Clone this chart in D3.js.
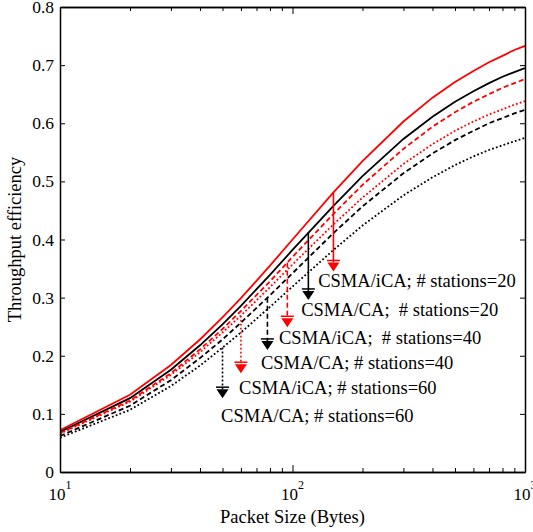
<!DOCTYPE html>
<html>
<head>
<meta charset="utf-8">
<script src="https://cdn.jsdelivr.net/npm/d3@7"></script>
<style>
  body { margin: 0; background: #fff; }
  svg { display: block; }
</style>
</head>
<body>
<svg id="chart" width="533" height="532" font-family="'Liberation Serif', 'Times New Roman', serif"></svg>
<script>
// Packet sizes (bytes) at which throughput efficiency was evaluated
const packetSizes = [10, 20, 30, 40, 50, 60, 80, 100, 150, 200, 300, 400, 500, 600, 700, 800, 900, 1000];

// Throughput efficiency per scheme and number of stations
const icaN20 = [0.072, 0.133, 0.184, 0.228, 0.266, 0.299, 0.355, 0.400, 0.481, 0.535, 0.603, 0.644, 0.671, 0.690, 0.705, 0.716, 0.726, 0.733];
const caN20  = [0.069, 0.127, 0.176, 0.218, 0.254, 0.286, 0.339, 0.382, 0.458, 0.509, 0.573, 0.611, 0.637, 0.655, 0.669, 0.680, 0.688, 0.695];
const icaN40 = [0.067, 0.123, 0.170, 0.211, 0.246, 0.277, 0.328, 0.370, 0.444, 0.494, 0.556, 0.594, 0.619, 0.637, 0.650, 0.661, 0.669, 0.676];
const caN40  = [0.062, 0.114, 0.158, 0.196, 0.228, 0.257, 0.304, 0.342, 0.411, 0.457, 0.514, 0.548, 0.571, 0.587, 0.600, 0.609, 0.617, 0.623];
const icaN60 = [0.066, 0.121, 0.167, 0.206, 0.240, 0.269, 0.318, 0.357, 0.426, 0.472, 0.530, 0.564, 0.587, 0.603, 0.615, 0.624, 0.632, 0.638];
const caN60  = [0.059, 0.107, 0.148, 0.183, 0.214, 0.240, 0.284, 0.319, 0.382, 0.424, 0.476, 0.507, 0.528, 0.543, 0.554, 0.562, 0.569, 0.575];

// Axis ticks
const yTicks = [0, 0.1, 0.2, 0.3, 0.4, 0.5, 0.6, 0.7, 0.8];
const xMajorTicks = [10, 100, 1000];
const xMajorExponents = ["1", "2", "3"];

// Annotation arrows: packet size, efficiency at the curve, efficiency at the tip
const arrowX    = [150, 117, 95, 78, 60, 50];
const arrowFrom = [0.481, 0.412, 0.360, 0.300, 0.269, 0.214];
const arrowTo   = [0.345, 0.296, 0.249, 0.210, 0.170, 0.127];

// Annotation labels: text, packet size and efficiency of the text's left-middle point
const labelText = [
  "CSMA/iCA; # stations=20",
  "CSMA/CA;  # stations=20",
  "CSMA/iCA;  # stations=40",
  "CSMA/CA; # stations=40",
  "CSMA/iCA; # stations=60",
  "CSMA/CA; # stations=60"
];
const labelX = [129, 109, 87.5, 73.2, 58.9, 49.3];
const labelY = [0.329, 0.280, 0.231, 0.189, 0.145, 0.098];

// ---- drawing ----
const FONT = "'Liberation Serif', 'Times New Roman', serif";
const svg = d3.select("#chart");
const plot = { left: 60, right: 525, top: 7, bottom: 472 };

const x = d3.scaleLog().domain([10, 1000]).range([plot.left, plot.right]);
const y = d3.scaleLinear().domain([0, 0.8]).range([plot.bottom, plot.top]);

const series = [
  { values: icaN20, color: "#ff0000", dash: null },
  { values: caN20,  color: "#000000", dash: null },
  { values: icaN40, color: "#ff0000", dash: "5,3" },
  { values: caN40,  color: "#000000", dash: "5,3" },
  { values: icaN60, color: "#ff0000", dash: "1.8,2.2" },
  { values: caN60,  color: "#000000", dash: "1.8,2.2" }
];

svg.append("clipPath").attr("id", "plotClip")
  .append("rect")
  .attr("x", plot.left).attr("y", plot.top)
  .attr("width", plot.right - plot.left).attr("height", plot.bottom - plot.top);

const line = d3.line()
  .x((d, i) => x(packetSizes[i]))
  .y(d => y(d));

const curves = svg.append("g").attr("clip-path", "url(#plotClip)");
series.forEach(s => {
  curves.append("path")
    .attr("d", line(s.values))
    .attr("fill", "none")
    .attr("stroke", s.color)
    .attr("stroke-width", 1.8)
    .attr("stroke-dasharray", s.dash);
});

// Arrows pointing from each curve down to its label
const arrows = svg.append("g");
arrowX.forEach((v, i) => {
  const s = series[i];
  const ax = x(v), y0 = y(arrowFrom[i]), y1 = y(arrowTo[i]);
  arrows.append("line")
    .attr("x1", ax).attr("x2", ax)
    .attr("y1", y0).attr("y2", y1 - 9)
    .attr("stroke", s.color).attr("stroke-width", 1.6)
    .attr("stroke-dasharray", s.dash);
  arrows.append("line")
    .attr("x1", ax - 6.5).attr("x2", ax + 6.5)
    .attr("y1", y1 - 11).attr("y2", y1 - 11)
    .attr("stroke", s.color).attr("stroke-width", 1.5);
  arrows.append("path")
    .attr("d", `M${ax - 6},${y1 - 9}L${ax + 6},${y1 - 9}L${ax},${y1}Z`)
    .attr("fill", s.color);
});

// Labels
const labels = svg.append("g");
labelText.forEach((t, i) => {
  labels.append("text")
    .attr("x", x(labelX[i]))
    .attr("y", y(labelY[i]))
    .attr("dy", "0.35em")
    .attr("font-family", FONT)
    .attr("font-size", 18.5)
    .attr("fill", "#000")
    .style("white-space", "pre")
    .text(t);
});

// Axes with inward ticks on all four sides
const axisG = svg.append("g");

const yLeft = d3.axisLeft(y).tickValues(yTicks).tickSizeInner(-5).tickSizeOuter(0)
  .tickPadding(6).tickFormat(d => d === 0 ? "0" : d3.format(".1f")(d));
axisG.append("g").attr("transform", `translate(${plot.left},0)`).call(yLeft)
  .attr("font-family", FONT).attr("font-size", 17.5)
  .call(g => g.selectAll("text").attr("fill", "#000"));

const yRight = d3.axisRight(y).tickValues(yTicks).tickSizeInner(-5).tickSizeOuter(0).tickFormat("");
axisG.append("g").attr("transform", `translate(${plot.right},0)`).call(yRight);

const minorTicks = x.ticks().filter(t => !xMajorTicks.includes(t));

const xBottomMajor = d3.axisBottom(x).tickValues(xMajorTicks).tickSizeInner(-7).tickSizeOuter(0).tickFormat("");
const xBottomMinor = d3.axisBottom(x).tickValues(minorTicks).tickSizeInner(-4).tickSizeOuter(0).tickFormat("");
const xTopMajor = d3.axisTop(x).tickValues(xMajorTicks).tickSizeInner(-7).tickSizeOuter(0).tickFormat("");
const xTopMinor = d3.axisTop(x).tickValues(minorTicks).tickSizeInner(-4).tickSizeOuter(0).tickFormat("");

axisG.append("g").attr("transform", `translate(0,${plot.bottom})`).call(xBottomMajor);
axisG.append("g").attr("transform", `translate(0,${plot.bottom})`).call(xBottomMinor);
axisG.append("g").attr("transform", `translate(0,${plot.top})`).call(xTopMajor);
axisG.append("g").attr("transform", `translate(0,${plot.top})`).call(xTopMinor);

axisG.selectAll(".domain").attr("stroke", "#000").attr("stroke-width", 1.5);
axisG.selectAll(".tick line").attr("stroke", "#000").attr("stroke-width", 1);

// Power-of-ten labels on the x axis
xMajorTicks.forEach((t, i) => {
  const txt = svg.append("text")
    .attr("x", x(t))
    .attr("y", 500)
    .attr("text-anchor", "middle")
    .attr("font-family", FONT)
    .attr("font-size", 17)
    .attr("fill", "#000");
  txt.append("tspan").text("10");
  txt.append("tspan").attr("dy", -11).attr("font-size", 12).text(xMajorExponents[i]);
});

// Axis titles
svg.append("text")
  .attr("x", (plot.left + plot.right) / 2)
  .attr("y", 523)
  .attr("text-anchor", "middle")
  .attr("font-family", FONT)
  .attr("font-size", 18.5)
  .attr("fill", "#000")
  .text("Packet Size (Bytes)");

svg.append("text")
  .attr("transform", `translate(21,${(plot.top + plot.bottom) / 2}) rotate(-90)`)
  .attr("text-anchor", "middle")
  .attr("font-family", FONT)
  .attr("font-size", 18.5)
  .attr("fill", "#000")
  .text("Throughput efficiency");
</script>
</body>
</html>
